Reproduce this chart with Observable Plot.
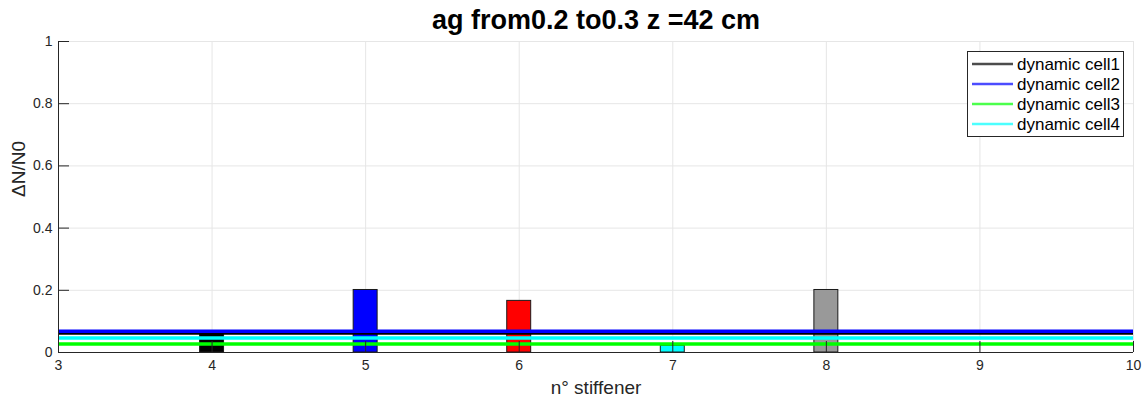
<!DOCTYPE html>
<html><head><meta charset="utf-8">
<script src="https://cdn.jsdelivr.net/npm/d3@7"></script>
<script src="https://cdn.jsdelivr.net/npm/@observablehq/plot@0.6"></script>
<style>
body{margin:0;background:#fff;}
#chart{position:relative;width:1147px;height:405px;}
</style>
</head><body><div id="chart"></div>
<script>
const titleText = "ag from0.2 to0.3 z =42 cm";
const xLabel = "n° stiffener";
const yLabel = "ΔN/N0";
const xTicks = [3, 4, 5, 6, 7, 8, 9, 10];
const xTickLabels = ["3", "4", "5", "6", "7", "8", "9", "10"];
const yTicks = [0, 0.2, 0.4, 0.6, 0.8, 1];
const yTickLabels = ["0", "0.2", "0.4", "0.6", "0.8", "1"];

const stiffeners = [4, 5, 6, 7, 8];
const barValues = [0.06, 0.201, 0.166, 0.022, 0.201];
const barColors = ["#000000", "#0000ff", "#ff0000", "#00ffff", "#999999"];
const barHalfWidth = 0.078;

const cellNames = ["dynamic cell1", "dynamic cell2", "dynamic cell3", "dynamic cell4"];
const cellValues = [0.0625, 0.068, 0.027, 0.0463];
const cellColors = ["#000000", "#0000ff", "#00ff00", "#00ffff"];

const bars = stiffeners.map((x, i) => ({x, y: barValues[i], color: barColors[i]}));
const cells = cellNames.map((name, i) => ({name, value: cellValues[i], color: cellColors[i]}));

const font = "'Liberation Sans', Arial, Helvetica, sans-serif";
const axisColor = "#262626";

const plot = Plot.plot({
  width: 1147,
  height: 405,
  marginLeft: 58,
  marginRight: 14,
  marginTop: 41,
  marginBottom: 53,
  style: {fontFamily: font, fontSize: "14px", color: axisColor, background: "#fff", overflow: "visible"},
  x: {domain: [3, 10]},
  y: {domain: [0, 1]},
  marks: [
    Plot.gridX(xTicks, {stroke: "#e6e6e6", strokeOpacity: 1}),
    Plot.gridY(yTicks, {stroke: "#e6e6e6", strokeOpacity: 1}),
    Plot.rect(bars, {x1: d => d.x - barHalfWidth, x2: d => d.x + barHalfWidth, y1: 0, y2: "y", fill: "color", stroke: "#1a1a1a", strokeWidth: 1}),
    Plot.ruleY(cells, {y: "value", stroke: "color", strokeWidth: 3.5}),
    Plot.axisX(xTicks, {tickSize: 11, dy: -11, fill: "none", stroke: axisColor, label: null}),
    Plot.axisX(xTicks, {tickSize: 0, tickPadding: 8, fill: axisColor, fontSize: 14, tickFormat: (d, i) => xTickLabels[i], label: null}),
    Plot.axisY(yTicks, {tickSize: 11, dx: 11, fill: "none", stroke: axisColor, label: null}),
    Plot.axisY(yTicks, {tickSize: 0, tickPadding: 6, fill: axisColor, fontSize: 14, tickFormat: (d, i) => yTickLabels[i], label: null}),
    Plot.ruleX([3], {stroke: axisColor}),
    Plot.ruleY([0], {stroke: axisColor}),
    Plot.text([titleText], {frameAnchor: "top", lineAnchor: "middle", dy: -21, fontSize: 27, fontWeight: "bold", fill: "#000"}),
    Plot.text([xLabel], {frameAnchor: "bottom", lineAnchor: "middle", dy: 35, fontSize: 19, fill: axisColor}),
    Plot.text([yLabel], {frameAnchor: "left", lineAnchor: "middle", dx: -40, rotate: -90, fontSize: 19, fill: axisColor})
  ]
});
document.getElementById("chart").appendChild(plot);

// legend inside the axes (upper right)
const svg = d3.select(plot);
const lg = svg.append("g").attr("font-family", font).attr("font-size", 17).attr("text-anchor", "start");
lg.append("rect").attr("x", 967.5).attr("y", 51.5).attr("width", 156).attr("height", 85)
  .attr("fill", "#fff").attr("stroke", axisColor).attr("stroke-width", 1);
cells.forEach((c, i) => {
  const cy = 64 + i * 20;
  lg.append("line").attr("x1", 972).attr("x2", 1013).attr("y1", cy).attr("y2", cy)
    .attr("stroke", c.color).attr("stroke-opacity", 0.7).attr("stroke-width", 2.5);
  lg.append("text").attr("x", 1017).attr("y", cy).attr("dy", "0.35em").attr("fill", "#000")
    .attr("text-anchor", "start").text(c.name);
});
</script>
</body></html>
